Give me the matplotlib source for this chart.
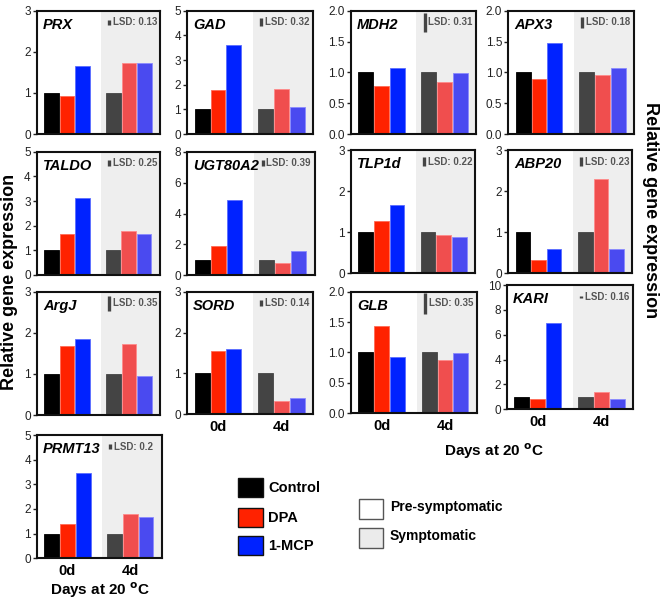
import matplotlib
matplotlib.use("Agg")
import matplotlib.pyplot as plt
from matplotlib.patches import Rectangle
from matplotlib.transforms import blended_transform_factory

plt.rcParams['font.family'] = ['Liberation Sans', 'DejaVu Sans']

# ---------------- data ----------------
genes = ["PRX", "GAD", "MDH2", "APX3", "TALDO", "UGT80A2", "TLP1d", "ABP20",
         "ArgJ", "SORD", "GLB", "KARI", "PRMT13"]
control_0d = [1.0, 1.0, 1.0, 1.0, 1.0, 1.0, 1.0, 1.0, 1.0, 1.0, 1.0, 1.0, 1.0]
dpa_0d     = [0.93, 1.78, 0.78, 0.90, 1.67, 1.88, 1.27, 0.32, 1.68, 1.54, 1.44, 0.83, 1.39]
mcp_0d     = [1.66, 3.59, 1.07, 1.48, 3.12, 4.87, 1.66, 0.59, 1.84, 1.61, 0.92, 6.93, 3.47]
control_4d = [1.0, 1.0, 1.0, 1.0, 1.0, 1.0, 1.0, 1.0, 1.0, 1.0, 1.0, 1.0, 1.0]
dpa_4d     = [1.72, 1.84, 0.84, 0.96, 1.80, 0.81, 0.92, 2.30, 1.72, 0.33, 0.88, 1.37, 1.79]
mcp_4d     = [1.72, 1.09, 0.99, 1.07, 1.67, 1.56, 0.88, 0.59, 0.94, 0.39, 0.99, 0.83, 1.69]
lsd        = [0.13, 0.32, 0.31, 0.18, 0.25, 0.39, 0.22, 0.23, 0.35, 0.14, 0.35, 0.16, 0.2]
lsd_labels = ["0.13", "0.32", "0.31", "0.18", "0.25", "0.39", "0.22", "0.23",
              "0.35", "0.14", "0.35", "0.16", "0.2"]
y_max      = [3, 5, 2, 2, 5, 8, 3, 3, 3, 3, 2, 10, 5]
y_step     = [1, 1, 0.5, 0.5, 1, 2, 1, 1, 1, 1, 0.5, 2, 1]
day_labels = ["0d", "4d"]
show_days  = [False, False, False, False, False, False, False, False,
              False, True, True, True, True]
treatments = ["Control", "DPA", "1-MCP"]
stages = ["Pre-symptomatic", "Symptomatic"]

# ---------------- style ----------------
col_0d = ["#000000", "#ff2200", "#0022ff"]
col_4d = ["#444444", "#f04e4e", "#4a4af0"]
edge_0d = ["#000000", "#ff6a55", "#5a6dff"]
edge_4d = ["#444444", "#ff8a8a", "#8a8aff"]
legend_cols = ["#000000", "#ff2200", "#0022ff"]
stage_cols = ["#ffffff", "#ebebeb"]

# panel positions in pixels: left, top, right, bottom
layout = [
    (36.7, 10.7, 160, 134), (187, 10.7, 313, 134), (350.7, 10.7, 476, 134), (508, 10.7, 634, 134),
    (36.5, 151.7, 159.5, 275), (187, 151.7, 315, 275.3), (350.7, 150, 475, 273), (508, 150, 632, 273),
    (36.7, 291.7, 160, 415), (187, 291.7, 313, 414.3), (350.7, 291.7, 476.7, 413.3), (506.7, 285, 633.3, 409.3),
    (36.7, 435, 161.7, 558.3),
]

W, H = 660, 600
fig = plt.figure(figsize=(W / 100, H / 100), dpi=100)


def px_axes(l, t, r, b):
    return fig.add_axes([l / W, 1 - b / H, (r - l) / W, (b - t) / H])


offsets = [-0.25, 0.0, 0.25]
bw = 0.235
for i, g in enumerate(genes):
    ax = px_axes(*layout[i])
    ax.set_xlim(-0.49, 1.5)
    ax.set_ylim(0, y_max[i])
    ax.axvspan(0.55, 1.5, color="#eeeeee", zorder=0, lw=0)
    vals0 = [control_0d[i], dpa_0d[i], mcp_0d[i]]
    vals4 = [control_4d[i], dpa_4d[i], mcp_4d[i]]
    for k in range(3):
        ax.bar(0 + offsets[k], vals0[k], width=bw, color=col_0d[k],
               edgecolor=edge_0d[k], linewidth=0.6, zorder=2)
        ax.bar(1 + offsets[k], vals4[k], width=bw, color=col_4d[k],
               edgecolor=edge_4d[k], linewidth=0.6, zorder=2)
    # ticks
    n = int(round(y_max[i] / y_step[i]))
    ticks = [j * y_step[i] for j in range(n + 1)]
    ax.set_yticks(ticks)
    if y_step[i] < 1:
        ax.set_yticklabels([f"{t:.1f}" for t in ticks])
    else:
        ax.set_yticklabels([f"{int(t)}" for t in ticks])
    ax.tick_params(axis="y", direction="out", length=3, width=1, labelsize=8.5,
                   pad=1.2, colors="#222222")
    if show_days[i]:
        ax.set_xticks([0, 1])
        ax.set_xticklabels(day_labels, fontsize=10.5, fontweight="bold")
        ax.tick_params(axis="x", length=0, pad=4)
    else:
        ax.set_xticks([])
    for s in ax.spines.values():
        s.set_linewidth(1.5)
        s.set_color("#111111")
        s.set_zorder(5)
    # gene name
    ax.text(0.05, 0.885, g, transform=ax.transAxes, fontsize=10.5,
            fontweight="bold", fontstyle="italic", va="center", ha="left", zorder=6)
    # LSD bar
    tr = blended_transform_factory(ax.transAxes, ax.transData)
    yc = 0.905 * y_max[i]
    ax.plot([0.59, 0.59], [yc - lsd[i] / 2, yc + lsd[i] / 2], transform=tr,
            color="#444444", lw=2.4, solid_capstyle="butt", zorder=6)
    ax.text(0.62, 0.905, "LSD: " + lsd_labels[i], transform=ax.transAxes,
            fontsize=7, fontweight="bold", color="#555555", va="center", ha="left", zorder=6)

# axis titles
fig.text(100 / W, 1 - 590 / H, "Days at 20 $^{\\mathbf{o}}$C", fontsize=11,
         fontweight="bold", ha="center", va="center")
fig.text(494 / W, 1 - 451 / H, "Days at 20 $^{\\mathbf{o}}$C", fontsize=11,
         fontweight="bold", ha="center", va="center")
fig.text(10 / W, 1 - 282 / H, "Relative gene expression", fontsize=13,
         fontweight="bold", rotation=90, ha="center", va="center")
fig.text(650 / W, 1 - 210 / H, "Relative gene expression", fontsize=13,
         fontweight="bold", rotation=270, ha="center", va="center")


def fig_rect(l, t, r, b, fc, ec, lw):
    rect = Rectangle((l / W, 1 - b / H), (r - l) / W, (b - t) / H,
                     transform=fig.transFigure, facecolor=fc, edgecolor=ec, linewidth=lw)
    fig.add_artist(rect)


legend_tops = [478, 508, 536]
for k, lab in enumerate(treatments):
    t = legend_tops[k]
    fig_rect(238, t, 263, t + 19, legend_cols[k], "#111111", 1.0)
    fig.text(268 / W, 1 - (t + 9.5) / H, lab, fontsize=10.5, fontweight="bold",
             ha="left", va="center")

stage_tops = [499, 528]
for k, lab in enumerate(stages):
    t = stage_tops[k]
    fig_rect(359, t, 383, t + 20, stage_cols[k], "#555555", 1.0)
    fig.text(390 / W, 1 - (t + 8) / H, lab, fontsize=10, fontweight="bold",
             ha="left", va="center")

fig.savefig("out.png", dpi=100)
